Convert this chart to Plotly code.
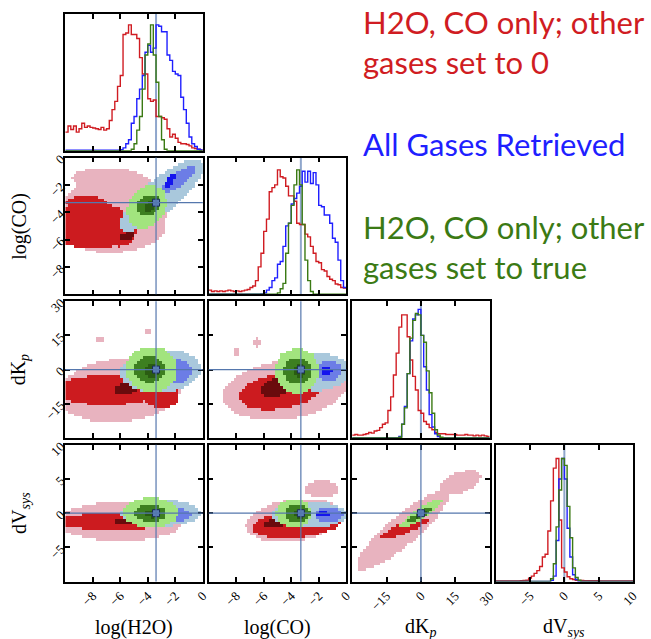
import numpy as np
import plotly.graph_objects as go

W, H = 651, 639

PARAMS = ["h2o", "co", "dkp", "dv"]
RANGES = {"h2o": (-10, 0), "co": (-10, 0), "dkp": (-30, 30), "dv": (-10, 10)}
TRUTH = {"h2o": -3.4, "co": -3.3, "dkp": 0.0, "dv": 0.0}
TICKS = {"h2o": [-8, -6, -4, -2, 0], "co": [-8, -6, -4, -2, 0],
         "dkp": [-15, 0, 15, 30], "dv": [-5, 0, 5, 10]}
LABELS = {"h2o": "log(H2O)", "co": "log(CO)",
          "dkp": "dK<sub><i>p</i></sub>", "dv": "dV<sub><i>sys</i></sub>"}

SERIES = ["zero", "all", "true"]
SERIES_NAMES = {"zero": ["H2O, CO only; other", "gases set to 0"],
                "all": ["All Gases Retrieved"],
                "true": ["H2O, CO only; other", "gases set to true"]}
LINE_COLORS = {"zero": "#d01c22", "all": "#1f1fff", "true": "#3b7a14"}
FILL_COLORS = {"zero": ["#e8b3bf", "#cc1b1f", "#6a0b0d"],
               "all": ["#a9c8dc", "#6c7de6", "#1414ee"],
               "true": ["#a2e47e", "#3d7f20", "#2a5c12"]}

# ---- 1D marginal histograms (50 bins over each range), heights as fraction of panel ----
HIST = {
    "h2o": {
        "zero": [0.135, 0.18, 0.155, 0.18, 0.135, 0.16, 0.20, 0.17, 0.18, 0.17,
                 0.165, 0.16, 0.155, 0.17, 0.15, 0.16, 0.22, 0.30, 0.36, 0.47,
                 0.55, 0.85, 0.86, 0.92, 0.85, 0.85, 0.82, 0.68, 0.56, 0.56,
                 0.38, 0.36, 0.37, 0.25, 0.25, 0.24, 0.23, 0.16, 0.10, 0.12,
                 0.09, 0.06, 0.05, 0.05, 0.045, 0.035, 0.02, 0.015, 0.01, 0.005],
        "all": [0.004, 0.004, 0.004, 0.004, 0.004, 0.004, 0.004, 0.004, 0.004, 0.004,
                0.004, 0.004, 0.004, 0.004, 0.004, 0.004, 0.004, 0.004, 0.004, 0.004,
                0.006, 0.02, 0.05, 0.08, 0.20, 0.25, 0.38, 0.45, 0.55, 0.72,
                0.77, 0.72, 0.75, 0.92, 0.91, 0.87, 0.87, 0.70, 0.66, 0.58,
                0.56, 0.55, 0.39, 0.30, 0.20, 0.10, 0.05, 0.03, 0.01, 0.005],
        "true": [0, 0, 0, 0, 0, 0, 0, 0, 0, 0,
                 0, 0, 0, 0, 0, 0, 0, 0, 0, 0,
                 0, 0, 0, 0, 0.01, 0.05, 0.15, 0.25, 0.45, 0.70,
                 0.78, 0.92, 0.70, 0.50, 0.25, 0.08, 0.01, 0, 0, 0,
                 0, 0, 0, 0, 0, 0, 0, 0, 0, 0],
    },
    "co": {
        "zero": [0.03, 0.02, 0.025, 0.02, 0.025, 0.02, 0.025, 0.03, 0.025, 0.02,
                 0.025, 0.02, 0.025, 0.03, 0.035, 0.05, 0.06, 0.10, 0.20, 0.30,
                 0.46, 0.55, 0.75, 0.78, 0.80, 0.91, 0.86, 0.85, 0.79, 0.72,
                 0.72, 0.68, 0.52, 0.51, 0.51, 0.44, 0.42, 0.35, 0.30, 0.24,
                 0.23, 0.18, 0.17, 0.13, 0.11, 0.10, 0.075, 0.07, 0.05, 0.045],
        "all": [0, 0, 0, 0, 0, 0, 0, 0, 0, 0,
                0, 0, 0, 0, 0, 0, 0, 0, 0, 0.003,
                0.01, 0.03, 0.05, 0.10, 0.12, 0.22, 0.24, 0.35, 0.50, 0.52,
                0.66, 0.70, 0.74, 0.79, 0.90, 0.82, 0.90, 0.81, 0.89, 0.80,
                0.65, 0.64, 0.58, 0.58, 0.52, 0.41, 0.38, 0.25, 0.10, 0.05],
        "true": [0, 0, 0, 0, 0, 0, 0, 0, 0, 0,
                 0, 0, 0, 0, 0, 0, 0, 0, 0, 0,
                 0, 0, 0, 0, 0, 0.01, 0.04, 0.08, 0.30, 0.52,
                 0.65, 0.80, 0.91, 0.80, 0.51, 0.25, 0.10, 0.02, 0, 0,
                 0, 0, 0, 0, 0, 0, 0, 0, 0, 0],
    },
    "dkp": {
        "zero": [0.02, 0.025, 0.02, 0.02, 0.025, 0.03, 0.04, 0.035, 0.05, 0.055,
                 0.075, 0.10, 0.11, 0.20, 0.30, 0.46, 0.62, 0.81, 0.90, 0.90,
                 0.74, 0.57, 0.45, 0.35, 0.20, 0.18, 0.12, 0.10, 0.075, 0.06,
                 0.04, 0.03, 0.03, 0.03, 0.025, 0.025, 0.025, 0.025, 0.02, 0.02,
                 0.02, 0.025, 0.02, 0.02, 0.015, 0.02, 0.015, 0.02, 0.015, 0.01],
        "all": [0, 0, 0, 0, 0, 0, 0, 0, 0, 0,
                0, 0, 0, 0, 0, 0, 0, 0.01, 0.10, 0.23,
                0.47, 0.71, 0.87, 0.90, 0.94, 0.75, 0.52, 0.35, 0.17, 0.08,
                0.03, 0.01, 0, 0, 0, 0, 0, 0, 0, 0,
                0, 0, 0, 0, 0, 0, 0, 0, 0, 0],
        "true": [0, 0, 0, 0, 0, 0, 0, 0, 0, 0,
                 0, 0, 0, 0, 0, 0, 0, 0.005, 0.10, 0.22,
                 0.47, 0.73, 0.86, 0.91, 0.90, 0.75, 0.70, 0.49, 0.33, 0.18,
                 0.06, 0.02, 0.005, 0, 0, 0, 0, 0, 0, 0,
                 0, 0, 0, 0, 0, 0, 0, 0, 0, 0],
    },
    "dv": {
        "zero": [0.005, 0.005, 0.005, 0.005, 0.005, 0.005, 0.005, 0.005, 0.005, 0.006,
                 0.008, 0.01, 0.025, 0.04, 0.06, 0.08, 0.11, 0.18, 0.20, 0.37,
                 0.59, 0.83, 0.90, 0.45, 0.10, 0.07, 0.035, 0.02, 0.015, 0.01,
                 0.008, 0.008, 0.007, 0.007, 0.006, 0.006, 0.006, 0.005, 0.005, 0.005,
                 0.005, 0.005, 0.005, 0.005, 0.005, 0.005, 0.005, 0.005, 0.005, 0.005],
        "all": [0, 0, 0, 0, 0, 0, 0, 0, 0, 0,
                0, 0, 0, 0, 0, 0, 0, 0, 0, 0,
                0.01, 0.04, 0.30, 0.75, 0.90, 0.75, 0.39, 0.18, 0.05, 0.015,
                0, 0, 0, 0, 0, 0, 0, 0, 0, 0,
                0, 0, 0, 0, 0, 0, 0, 0, 0, 0],
        "true": [0, 0, 0, 0, 0, 0, 0, 0, 0, 0,
                 0, 0, 0, 0, 0, 0, 0, 0, 0, 0,
                 0.02, 0.13, 0.40, 0.67, 0.90, 0.85, 0.55, 0.32, 0.10, 0.03,
                 0.01, 0, 0, 0, 0, 0, 0, 0, 0, 0,
                 0, 0, 0, 0, 0, 0, 0, 0, 0, 0],
    },
}

# ---- 2D credible regions ----
# each entry: (level, centre_x, centre_y, half_width_x, half_width_y, tilt_correlation)
REGIONS = {
    ("h2o", "co"): {
        "zero": [(1, -6.5, -4.0, 3.9, 3.0, 0.1), (1, -4.5, -5.6, 1.8, 1.2, 0.5),
                 (1, -7.0, -1.5, 2.5, 0.8, 0.0),
                 (2, -8.0, -5.0, 3.0, 1.7, 0.0), (2, -5.8, -5.4, 1.0, 1.1, 0.3),
                 (2, -8.5, -3.3, 1.5, 0.5, 0.0),
                 (3, -5.5, -5.75, 0.6, 0.35, 0.6)],
        "all": [(1, -3.0, -2.75, 3.0, 2.6, 0.8), (2, -1.8, -1.6, 1.3, 1.1, 0.85),
                (3, -2.45, -1.75, 0.45, 0.55, 0.8)],
        "true": [(1, -4.1, -3.6, 1.45, 1.55, 0.2), (2, -3.95, -3.5, 0.85, 0.8, 0.2),
                 (3, -3.9, -3.6, 0.35, 0.35, 0.2)],
    },
    ("h2o", "dkp"): {
        "zero": [(1, -6.0, -9.0, 4.5, 14.0, 0.15), (1, -7.5, 13.0, 0.4, 1.6, 0.0),
                 (1, -4.0, 17.0, 0.3, 1.3, 0.0),
                 (2, -7.0, -9.0, 3.8, 6.5, 0.0),
                 (2, -3.0, -11.5, 1.3, 5.5, 0.0), (3, -5.6, -8.3, 0.9, 2.5, 0.3)],
        "all": [(1, -3.1, -0.5, 2.9, 9.5, 0.1), (2, -1.8, -0.7, 0.95, 5.0, 0.0),
                (3, -2.3, -0.6, 0.25, 1.5, 0.0)],
        "true": [(1, -3.75, 0.2, 1.85, 10.0, 0.0), (2, -3.9, 0.2, 1.1, 5.8, 0.0),
                 (3, -3.7, -0.6, 0.5, 2.9, 0.0)],
    },
    ("h2o", "dv"): {
        "zero": [(1, -6.0, -1.2, 4.6, 2.8, 0.0), (2, -6.5, -1.2, 4.5, 1.15, 0.0),
                 (3, -5.5, -1.0, 0.9, 0.6, 0.4)],
        "all": [(1, -3.1, 0.05, 2.9, 1.95, 0.0), (2, -1.9, -0.2, 1.05, 0.9, 0.0),
                (3, -2.35, -0.05, 0.25, 0.35, 0.0)],
        "true": [(1, -3.8, 0.1, 2.0, 2.2, 0.0), (2, -3.85, 0.05, 1.15, 1.25, 0.0),
                 (3, -3.7, -0.05, 0.5, 0.6, 0.0)],
    },
    ("co", "dkp"): {
        "zero": [(1, -4.5, -9.0, 4.5, 13.0, 0.2), (1, -6.5, 12.0, 0.4, 2.0, 0.0),
                 (1, -8.0, 8.0, 0.3, 1.5, 0.0),
                 (2, -4.8, -9.5, 3.0, 8.0, 0.3),
                 (3, -5.0, -7.5, 1.3, 4.5, 0.4)],
        "all": [(1, -2.2, -0.8, 2.4, 8.3, 0.0), (2, -1.3, -0.5, 0.95, 4.3, 0.0),
                (3, -1.45, -0.5, 0.4, 2.0, 0.0)],
        "true": [(1, -3.6, -0.5, 1.6, 10.0, 0.0), (2, -3.55, -0.6, 1.0, 5.8, 0.0),
                 (3, -3.4, -0.5, 0.45, 2.8, 0.0)],
    },
    ("co", "dv"): {
        "zero": [(1, -3.8, -1.0, 3.5, 3.2, 0.25), (1, -1.8, 3.5, 1.2, 1.3, 0.0),
                 (2, -3.5, -1.5, 3.3, 2.1, 0.3),
                 (3, -5.0, -1.3, 1.1, 0.8, 0.5)],
        "all": [(1, -2.7, -0.2, 2.7, 1.9, 0.0), (2, -1.25, -0.2, 1.0, 1.1, 0.0),
                (3, -1.7, -0.1, 0.5, 0.35, 0.0)],
        "true": [(1, -3.84, 0.0, 1.3, 2.05, 0.0), (2, -3.55, -0.05, 0.9, 1.35, 0.0),
                 (3, -3.35, -0.1, 0.45, 0.55, 0.0)],
    },
    ("dkp", "dv"): {
        "zero": [(1, -8.0, -2.5, 20.0, 5.8, 0.88), (1, 17.0, 4.5, 9.0, 1.8, 0.5),
                 (2, -7.0, -2.15, 10.5, 1.5, 0.85), (3, -7.0, -1.6, 3.5, 0.6, 0.8)],
        "all": [(1, 0.0, 0.0, 8.5, 1.9, 0.9), (2, 0.0, 0.0, 5.0, 1.1, 0.9),
                (3, 0.0, 0.0, 2.0, 0.5, 0.9)],
        "true": [(1, 0.0, 0.0, 9.5, 2.1, 0.9), (2, -0.3, -0.2, 5.8, 1.2, 0.9),
                 (3, -0.6, -0.3, 2.5, 0.6, 0.9)],
    },
}

NBIN2D = 50
TRUTH_COLOR = "#5577ad"
TICK_FONT = dict(family="Liberation Serif", size=13, color="black")
LABEL_FONT = dict(family="Liberation Serif", size=20, color="black")


def level_grid(regions, xr, yr, n):
    xe = np.linspace(xr[0], xr[1], n + 1)
    ye = np.linspace(yr[0], yr[1], n + 1)
    xc = 0.5 * (xe[:-1] + xe[1:])
    yc = 0.5 * (ye[:-1] + ye[1:])
    X, Y = np.meshgrid(xc, yc)
    Z = np.zeros_like(X)
    for (lev, cx, cy, hx, hy, rho) in regions:
        u = (X - cx) / hx
        v = (Y - cy) / hy
        d = (u * u - 2 * rho * u * v + v * v) / (1 - rho * rho)
        Z = np.where((d <= 1) & (Z < lev), lev, Z)
    Z = np.where(Z == 0, np.nan, Z)
    return xc, yc, Z


fig = go.Figure()
layout = dict(width=W, height=H, margin=dict(l=0, r=0, t=0, b=0),
              paper_bgcolor="white", plot_bgcolor="white", showlegend=False)
shapes = []
annotations = []

k = 0
for r in range(4):
    for c in range(r + 1):
        k += 1
        xs = "" if k == 1 else str(k)
        px0 = 66 + 145 * c
        py0 = 8 + 145 * r
        xdom = [px0 / W, (px0 + 139) / W]
        ydom = [1 - (py0 + 138) / H, 1 - py0 / H]
        xp = PARAMS[c]
        common = dict(showline=True, linecolor="black", linewidth=1.5, mirror="ticks",
                      ticks="inside", ticklen=5, tickwidth=1.5, tickcolor="black",
                      showgrid=False, zeroline=False, tickfont=TICK_FONT, tickangle=-45,
                      fixedrange=True)
        layout["xaxis" + xs] = dict(common, domain=xdom, anchor="y" + xs,
                                    range=list(RANGES[xp]), tickmode="array",
                                    tickvals=TICKS[xp], showticklabels=(r == 3))
        if r == c:
            layout["yaxis" + xs] = dict(common, domain=ydom, anchor="x" + xs,
                                        range=[0, 1], ticks="", showticklabels=False)
            edges = np.linspace(RANGES[xp][0], RANGES[xp][1], 51)
            shapes.append(dict(type="line", xref="x" + xs, yref="y" + xs + " domain",
                               x0=TRUTH[xp], x1=TRUTH[xp], y0=0, y1=1, layer="below",
                               line=dict(color="#8fa6cc", width=2)))
            for s in SERIES:
                vals = list(HIST[xp][s])
                fig.add_trace(go.Scatter(x=list(edges[:-1]) + [edges[-1]], y=vals + [vals[-1]],
                                         mode="lines", line=dict(color=LINE_COLORS[s], width=1.4, shape="hv"),
                                         xaxis="x" + xs, yaxis="y" + xs, hoverinfo="skip"))
        else:
            yp = PARAMS[r]
            layout["yaxis" + xs] = dict(common, domain=ydom, anchor="x" + xs,
                                        range=list(RANGES[yp]), tickmode="array",
                                        tickvals=TICKS[yp], showticklabels=(c == 0))
            for s in SERIES:
                xc, yc, Z = level_grid(REGIONS[(xp, yp)][s], RANGES[xp], RANGES[yp], NBIN2D)
                cols = FILL_COLORS[s]
                cs = [[0, cols[0]], [1 / 3, cols[0]], [1 / 3, cols[1]], [2 / 3, cols[1]],
                      [2 / 3, cols[2]], [1, cols[2]]]
                fig.add_trace(go.Heatmap(x=xc, y=yc, z=Z, zmin=0.5, zmax=3.5, colorscale=cs,
                                         showscale=False, hoverinfo="skip",
                                         xaxis="x" + xs, yaxis="y" + xs))
            shapes.append(dict(type="line", xref="x" + xs, yref="y" + xs + " domain",
                               x0=TRUTH[xp], x1=TRUTH[xp], y0=0, y1=1,
                               line=dict(color=TRUTH_COLOR, width=1.2)))
            shapes.append(dict(type="line", xref="x" + xs + " domain", yref="y" + xs,
                               x0=0, x1=1, y0=TRUTH[yp], y1=TRUTH[yp],
                               line=dict(color=TRUTH_COLOR, width=1.2)))
            fig.add_trace(go.Scatter(x=[TRUTH[xp]], y=[TRUTH[yp]], mode="markers",
                                     marker=dict(symbol="square", size=7, color="#5b7fb8",
                                                 line=dict(color="#1b2b55", width=1)),
                                     xaxis="x" + xs, yaxis="y" + xs, hoverinfo="skip"))

# axis titles
for i, p in enumerate(PARAMS):
    annotations.append(dict(text=LABELS[p], xref="paper", yref="paper",
                            x=(66 + 145 * i + 69.5) / W, y=1 - 627 / H,
                            showarrow=False, font=LABEL_FONT, xanchor="center", yanchor="middle"))
    if i > 0:
        annotations.append(dict(text=LABELS[p], xref="paper", yref="paper",
                                x=20 / W, y=1 - (8 + 145 * i + 69) / H, textangle=-90,
                                showarrow=False, font=LABEL_FONT, xanchor="center", yanchor="middle"))

# legend text
legend_y = {"zero": [16, 57], "all": [139], "true": [223, 263]}
for s in SERIES:
    for line, yy in zip(SERIES_NAMES[s], legend_y[s]):
        annotations.append(dict(text=line, xref="paper", yref="paper", x=365 / W, y=1 - yy / H,
                                xanchor="left", yanchor="middle", showarrow=False,
                                font=dict(family="Lato", size=31, color=LINE_COLORS[s])))

layout["shapes"] = shapes
layout["annotations"] = annotations
fig.update_layout(**layout)
fig.write_html("out.html", config={"displayModeBar": False},
               post_script="document.body.style.margin='0';document.body.style.overflow='hidden';")
